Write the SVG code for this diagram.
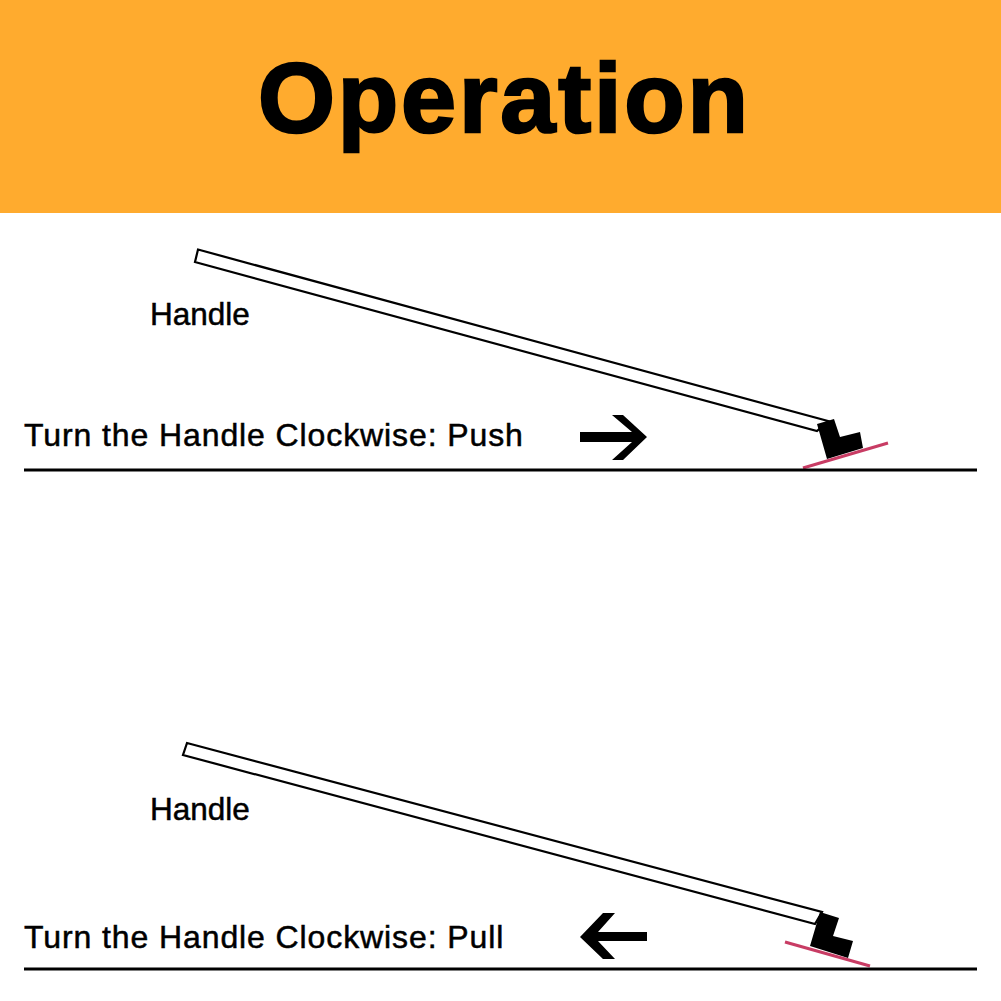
<svg xmlns="http://www.w3.org/2000/svg" width="1001" height="1001" viewBox="0 0 1001 1001">
<style>
text{font-family:"Liberation Sans",Arial,sans-serif;fill:#000;stroke:#000}
.handle{font-size:31.500px;stroke-width:.5}
.label{font-size:32px;stroke-width:.5;letter-spacing:.9px}
.bar{fill:#fff;stroke:#000;stroke-width:2.2}
.pink{stroke:#c83c64;stroke-width:3;fill:none}
.ground{stroke:#000;stroke-width:3;fill:none}
</style>
<rect id="banner" x="0" y="0" width="1001" height="213" fill="#ffab2e"/>
<text id="title" x="503" y="132" text-anchor="middle" font-size="99" font-weight="700" stroke-width="2.500" textLength="490" lengthAdjust="spacing">Operation</text>
<g id="top-scene">
<polygon class="bar" points="198,249.500 828,421 817,431 195,262"/>
<polygon points="817,424 834,419 840,437 860,432 863,448 827,459"/>
<line class="pink" x1="803" y1="468" x2="888" y2="443"/>
<line class="ground" x1="24" y1="470" x2="977" y2="470"/>
<polygon points="580,432 632,432 612,415 623,415 647,437 623,460 612,460 632,442 580,442"/>
<text class="handle" x="150" y="325">Handle</text>
<text class="label" x="24" y="446">Turn the Handle Clockwise: Push</text>
</g>
<g id="bottom-scene">
<polygon class="bar" points="187,743 822,912 815,924 183,755"/>
<polygon points="820,912 839,918 833,936 853,941 848,958 810,946"/>
<line class="pink" x1="785" y1="942" x2="870" y2="966"/>
<line class="ground" x1="24" y1="969" x2="977" y2="969"/>
<polygon points="647,932 598,932 615,913 603,913 580,937 603,959 615,959 598,941 647,941"/>
<text class="handle" x="150" y="820">Handle</text>
<text class="label" x="24" y="948">Turn the Handle Clockwise: Pull</text>
</g>
</svg>
